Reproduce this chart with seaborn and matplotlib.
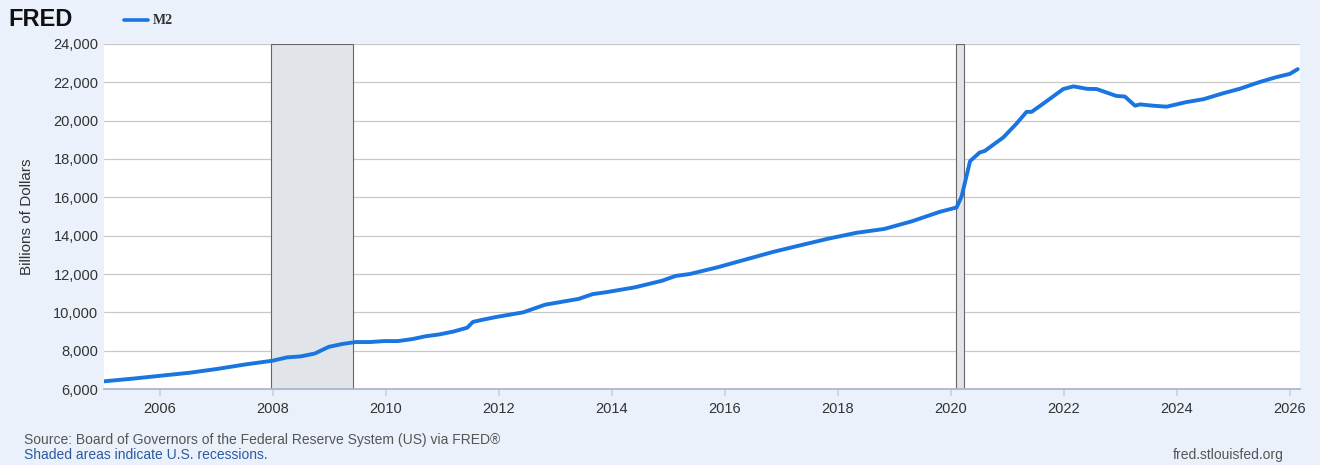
import matplotlib
matplotlib.use("Agg")
import matplotlib.pyplot as plt
import seaborn as sns
import pandas as pd

dates = [2005.01,2005.55,2006.04,2006.53,2007.02,2007.51,2008.0,2008.25,2008.49,2008.74,2008.99,2009.23,2009.47,2009.72,
         2009.97,2010.21,2010.46,2010.7,2010.95,2011.2,2011.44,2011.54,2011.69,2011.94,2012.43,2012.82,2012.92,2013.41,
         2013.66,2013.9,2014.4,2014.89,2015.13,2015.38,2015.87,2016.36,2016.85,2017.34,2017.84,2018.33,2018.82,2019.31,
         2019.8,2020.1,2020.19,2020.34,2020.51,2020.6,2020.93,2021.16,2021.34,2021.43,2021.64,2021.99,2022.17,
         2022.41,2022.58,2022.93,2023.08,2023.26,2023.35,2023.58,2023.82,2024.17,2024.47,2024.82,2025.11,2025.47,
         2025.76,2026.0,2026.14]
m2 = [6400,6550,6700,6850,7050,7280,7480,7650,7700,7850,8200,8350,8450,8450,
      8500,8500,8600,8750,8850,9000,9200,9500,9600,9750,10000,10400,10450,10700,
      10950,11050,11300,11650,11900,12000,12350,12750,13150,13500,13850,14150,14350,14750,
      15240,15470,16040,17890,18340,18420,19130,19840,20460,20460,20900,21650,21790,
      21660,21650,21290,21260,20780,20850,20780,20730,20970,21120,21430,21660,22020,
      22270,22440,22690]
recessions = [(2007.96, 2009.42), (2020.09, 2020.23)]
yticks = [6000,8000,10000,12000,14000,16000,18000,20000,22000,24000]
xticks = list(range(2006, 2027, 2))

bg = "#eaf1fa"
sns.set_theme(style="white")
plt.rcParams['font.family'] = ['Liberation Sans', 'DejaVu Sans']
fig = plt.figure(figsize=(13.2, 4.65), dpi=100, facecolor=bg)
ax = fig.add_axes([104/1320, 1-389/465, (1300-104)/1320, (389-44)/465])
ax.set_facecolor("white")
for a, b in recessions:
    ax.axvspan(a, b, facecolor="#e1e5ea", edgecolor="#666666", lw=0.8, zorder=1)
df = pd.DataFrame({"date": dates, "M2": m2})
sns.lineplot(data=df, x="date", y="M2", ax=ax, color="#1a75e0", lw=2.8, zorder=3)
ax.set_xlim(2005.01, 2026.18)
ax.set_ylim(6000, 24000)
ax.set_yticks(yticks)
ax.set_yticklabels([f"{v:,}" for v in yticks])
ax.set_xticks(xticks)
ax.set_xticklabels([str(x) for x in xticks])
ax.grid(axis="y", color="#c8c8c8", lw=0.9, zorder=0)
ax.set_axisbelow(True)
for s in ["top", "right", "left"]:
    ax.spines[s].set_visible(False)
ax.spines["bottom"].set_color("#aab4c8")
ax.tick_params(axis="both", labelsize=10.5, colors="#333333", length=0, pad=4)
ax.tick_params(axis="x", length=5, color="#c8d2e6", direction="out", bottom=True)
ax.set_xlabel("")
ax.set_ylabel("Billions of Dollars", fontsize=11, color="#333333", labelpad=14)

fig.text(8/1320, 1-20/465, "FRED", fontsize=17, fontweight="heavy", color="#111111", va="center")
fig.lines.append(plt.Line2D([124/1320, 148/1320], [1-20/465]*2, color="#1a75e0", lw=2.6, transform=fig.transFigure))
fig.text(153/1320, 1-20/465, "M2", fontsize=10, fontweight="bold", family="Liberation Serif", color="#333333", va="center")
fig.text(24/1320, 1-440/465, "Source: Board of Governors of the Federal Reserve System (US) via FRED®", fontsize=10, color="#555555", va="center")
fig.text(24/1320, 1-455/465, "Shaded areas indicate U.S. recessions.", fontsize=10, color="#2c5aa0", va="center")
fig.text(1284/1320, 1-455/465, "fred.stlouisfed.org", fontsize=10, color="#555555", va="center", ha="right")
fig.savefig("out.png", dpi=100, facecolor=bg)
